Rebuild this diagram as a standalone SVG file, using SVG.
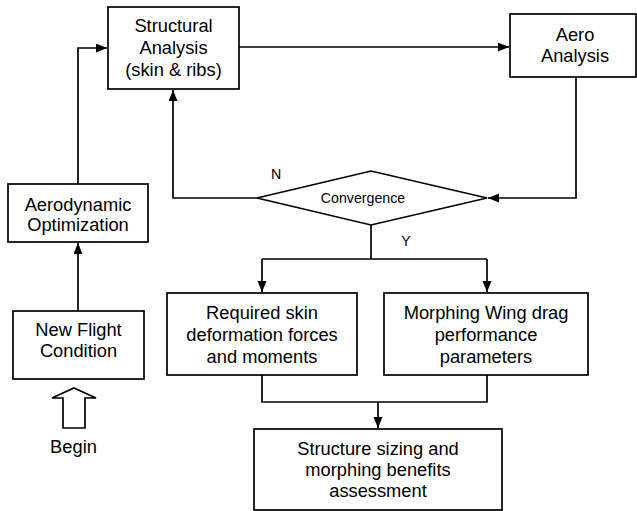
<svg xmlns="http://www.w3.org/2000/svg" width="637" height="511" viewBox="0 0 637 511">
<defs>
<marker id="arr" markerUnits="userSpaceOnUse" markerWidth="12" markerHeight="10" refX="11" refY="4.5" orient="auto">
<path d="M0,0 L11,4.5 L0,9 z" fill="#000"/>
</marker>
<style>
.box{fill:#fff;stroke:#000;stroke-width:1.7}
.t{font-family:"Liberation Sans",Arial,sans-serif;font-size:18.3px;fill:#000;text-anchor:middle}
.s{font-family:"Liberation Sans",Arial,sans-serif;font-size:14.2px;fill:#000;text-anchor:middle}
.c{fill:none;stroke:#000;stroke-width:1.7}
</style>
</defs>
<rect width="637" height="511" fill="#fff"/>
<g id="connectors">
<path class="c" d="M239,47 H509" marker-end="url(#arr)"/>
<path class="c" d="M576,77 V198 H488" marker-end="url(#arr)"/>
<path class="c" d="M257,198 H173 V90" marker-end="url(#arr)"/>
<path class="c" d="M78,184 V48 H107" marker-end="url(#arr)"/>
<path class="c" d="M78,311 V243" marker-end="url(#arr)"/>
<path class="c" d="M371,225 V259"/>
<path class="c" d="M262,259 H487"/>
<path class="c" d="M262,259 V292" marker-end="url(#arr)"/>
<path class="c" d="M487,259 V292" marker-end="url(#arr)"/>
<path class="c" d="M262,375 V402 H487 V375"/>
<path class="c" d="M378,402 V428" marker-end="url(#arr)"/>
<text class="s" x="276" y="179">N</text>
<text class="s" x="406" y="246">Y</text>
</g>
<g id="structural">
<rect class="box" x="108" y="7" width="131" height="82"/>
<text class="t" x="173.5" y="32">Structural</text>
<text class="t" x="173.5" y="54">Analysis</text>
<text class="t" x="173.5" y="76">(skin &amp; ribs)</text>
</g>
<g id="aero">
<rect class="box" x="510" y="14" width="126" height="63"/>
<text class="t" x="575" y="41">Aero</text>
<text class="t" x="575" y="62">Analysis</text>
</g>
<g id="convergence">
<polygon class="box" points="257,198 371,171 487,198 371,225"/>
<text class="s" x="363" y="203">Convergence</text>
</g>
<g id="aeroopt">
<rect class="box" x="8" y="184" width="140" height="58"/>
<text class="t" x="78" y="211">Aerodynamic</text>
<text class="t" x="78" y="231">Optimization</text>
</g>
<g id="newflight">
<rect class="box" x="13" y="311" width="131" height="68"/>
<text class="t" x="78.5" y="336">New Flight</text>
<text class="t" x="78.5" y="357">Condition</text>
</g>
<g id="begin">
<polygon class="box" points="74,388 96,398 85,398 85,428 63,428 63,398 52,398"/>
<text class="t" x="73.5" y="453">Begin</text>
</g>
<g id="required">
<rect class="box" x="167" y="293" width="190" height="82"/>
<text class="t" x="262" y="319">Required skin</text>
<text class="t" x="262" y="341">deformation forces</text>
<text class="t" x="262" y="363">and moments</text>
</g>
<g id="morphing">
<rect class="box" x="384" y="293" width="204" height="82"/>
<text class="t" x="486" y="319">Morphing Wing drag</text>
<text class="t" x="486" y="341">performance</text>
<text class="t" x="486" y="363">parameters</text>
</g>
<g id="structure">
<rect class="box" x="254" y="429" width="248" height="81"/>
<text class="t" x="378" y="455">Structure sizing and</text>
<text class="t" x="378" y="476">morphing benefits</text>
<text class="t" x="378" y="497">assessment</text>
</g>
</svg>
